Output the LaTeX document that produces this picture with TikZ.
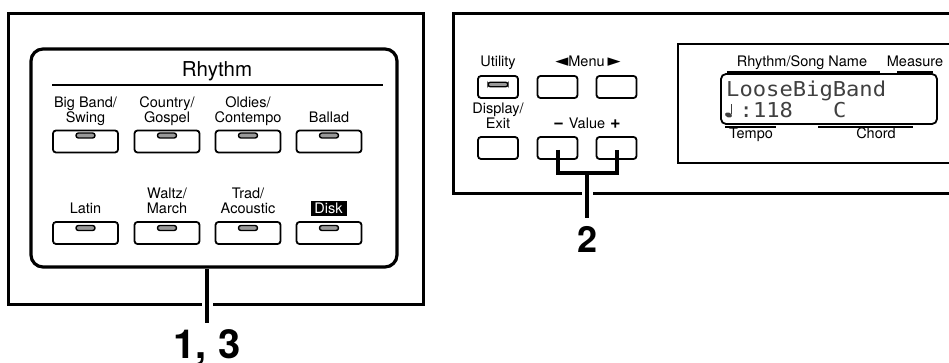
\documentclass[tikz,border=0pt]{standalone}
\usepackage{fontspec}
\setmainfont{TeX Gyre Heros}
\newfontfamily\lcdfont[FakeStretch=1.08]{DejaVu Sans Mono}
\newfontfamily\symfont{DejaVu Sans}
\newcommand\lblfont{\fontsize{14.5}{15}\selectfont}
\newcommand\titlefont{\fontsize{20.5}{21}\selectfont}
\newcommand\bignum{\fontsize{40}{40}\selectfont\bfseries}
\newcommand\midnum{\fontsize{36}{36}\selectfont\bfseries}
\begin{document}
\begin{tikzpicture}[x=1pt,y=-1pt,
  frame/.style={draw, line width=3pt},
  panelbox/.style={draw, line width=3.2pt, rounded corners=12pt, inner sep=0pt},
  btn/.style={draw, line width=1.8pt, rounded corners=3pt, inner sep=0pt, minimum height=22pt},
  rbtn/.style={btn, minimum width=65pt},
  sbtn/.style={btn, minimum width=40pt},
  led/.style={draw, line width=1.4pt, fill=black!40, rounded corners=2.4pt, inner sep=0pt, minimum width=19pt, minimum height=5pt},
  lbl/.style={font=\lblfont, align=center, inner sep=0pt, anchor=base},
  titlelbl/.style={font=\titlefont, inner sep=0pt, anchor=base},
  callout/.style={line width=4pt},
  halo/.style={white, line width=11pt},
  num/.style={font=\bignum, inner sep=0pt, anchor=base, text depth=0pt},
  midnumlbl/.style={font=\midnum, inner sep=0pt, anchor=base},
  rule/.style={line width=1.6pt},
  lcdink/.style={black!75},
  lcdtxt/.style={font=\lcdfont\fontsize{20.5}{21}\selectfont, text=black!75, inner sep=0pt, anchor=base west, text height=15pt, text depth=0pt}]
\useasboundingbox (0,0) rectangle (949,363);

% ---------- left panel ----------
\draw[frame] (8,14) rectangle (423,304.5);
\node[panelbox, minimum width=366pt, minimum height=218pt] (rpanel) at (214,158) {};
\node[titlelbl] (rtitle) at (217,77) {Rhythm};
\draw[rule] (52,85) -- (383,85);

% row 1
\node[rbtn] (b1) at (85.5,141.5) {};
\node[rbtn] (b2) at (167,141.5) {};
\node[rbtn] (b3) at (248,141.5) {};
\node[rbtn] (b4) at (329,141.5) {};
\node[led] (l1) at (85.5,135.5) {};
\node[led] (l2) at (167,135.5) {};
\node[led] (l3) at (248,135.5) {};
\node[led] (l4) at (329,135.5) {};
\node[lbl] (t1) at (85.5,123) {Big Band/\\Swing};
\node[lbl] (t2) at (167,123) {Country/\\Gospel};
\node[lbl] (t3) at (248,123) {Oldies/\\Contempo};
\node[lbl] (t4) at (329,123) {Ballad};

% row 2
\node[rbtn] (b5) at (85.5,233) {};
\node[rbtn] (b6) at (167,233) {};
\node[rbtn] (b7) at (248,233) {};
\node[rbtn] (b8) at (329,233) {};
\node[led] (l5) at (85.5,228) {};
\node[led] (l6) at (167,228) {};
\node[led] (l7) at (248,228) {};
\node[led] (l8) at (329,228) {};
\node[lbl] (t5) at (85.5,214) {Latin};
\node[lbl] (t6) at (167,214) {Waltz/\\March};
\node[lbl] (t7) at (248,214) {Trad/\\Acoustic};
\node[fill=black, text=white, font=\lblfont, minimum width=36pt, minimum height=15.5pt, inner sep=0pt] (disk) at (328.5,208.5) {Disk};

% callout 1,3
\coordinate (c1end) at (207,323);
\draw[halo] (207,299) -- (207,310);
\draw[callout] (rpanel.south -| c1end) -- (c1end);
\node[num] (n13) at (207,358) {1, 3};

% ---------- right panel ----------
\draw[frame] (955,14) -- (453,14) -- (453,193.5) -- (955,193.5);
\draw[line width=1.5pt] (955,44) -- (678,44) -- (678,163) -- (955,163);

\node[sbtn] (util) at (498,87) {};
\node[led, minimum width=20pt, minimum height=4.5pt] (lutil) at (498,84.5) {};
\node[sbtn] (menul) at (557.5,87) {};
\node[sbtn] (menur) at (616.5,87) {};
\node[sbtn] (disp) at (498,148) {};
\node[sbtn] (vminus) at (557.5,148) {};
\node[sbtn] (vplus) at (616.5,148) {};

\node[lbl] (tutil) at (498,67) {Utility};
\node[lbl] (tmenu) at (588,67) {{\symfont\fontsize{17}{17}\selectfont ◄}Menu\hspace{3pt}{\symfont\fontsize{17}{17}\selectfont ►}};
\node[lbl] (tdisp) at (498,129) {Display/\\Exit};
\node[lbl] (tvalue) at (587,129) {{\fontsize{18}{18}\selectfont\bfseries −}\hspace{5pt}Value\hspace{5pt}{\fontsize{18}{18}\selectfont\bfseries +}};

% callout 2
\coordinate (c2mid) at (587,173);
\coordinate (c2end) at (587,218);
\draw[callout] ([yshift=-2pt]vminus.center) |- (c2mid) -| ([yshift=-2pt]vplus.center);
\draw[halo] (587,188) -- (587,199);
\draw[callout] (c2mid) -- (c2end);
\node[midnumlbl] (n2) at (587,252) {2};

% display
\node[lbl] (tname) at (802,67) {Rhythm/Song Name};
\node[lbl] (tmeas) at (915,67) {Measure};
\draw[rule] (727,72) -- (880,72);
\draw[rule] (897,72) -- (933,72);
\node[draw, line width=1.8pt, rounded corners=5pt, minimum width=216pt, minimum height=50pt, inner sep=0pt] (lcd) at (829,99) {};
\node[lcdtxt] (lcd1) at (726,97) {LooseBigBand};
% quarter-note symbol of the display
\fill[lcdink, rotate around={-20:(728.5,115)}] (728.5,115) ellipse (3.6pt and 2.4pt);
\draw[lcdink, line width=1.4pt] (731.6,114.5) -- (731.6,104.5);
\node[lcdtxt] (lcd2) at (739.5,118) {:118\phantom{000}C};
\draw[rule] (725,127) -- (776,127);
\draw[rule] (818,127) -- (913,127);
\node[lbl] (ttempo) at (751,139) {Tempo};
\node[lbl] (tchord) at (876,139) {Chord};
\end{tikzpicture}
\end{document}
